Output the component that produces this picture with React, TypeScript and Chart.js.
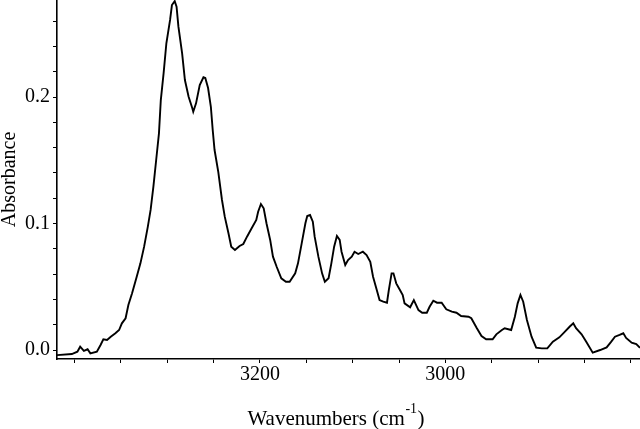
import React, { useEffect, useRef } from "react";
import { Chart, registerables } from "chart.js";

Chart.register(...registerables);

// Wavenumbers (cm-1) (decreasing left to right)
const wavenumbers = [
  3419, 3403, 3397, 3394, 3390, 3386, 3383, 3376, 3372, 3369, 3365, 3361, 3356, 3352, 3349, 3345,
  3342, 3338, 3333, 3329, 3325, 3321, 3318, 3315, 3312, 3309, 3307, 3304, 3301, 3297, 3295, 3292,
  3290, 3288, 3284, 3281, 3277, 3273, 3272, 3269, 3265, 3261, 3259, 3256, 3253, 3251, 3249, 3245,
  3241, 3238, 3234, 3231, 3227, 3222, 3218, 3214, 3209, 3204, 3202, 3199, 3196, 3193, 3189, 3186,
  3182, 3177, 3172, 3168, 3162, 3159, 3155, 3151, 3149, 3146, 3143, 3141, 3137, 3133, 3130, 3126,
  3123, 3120, 3117, 3114, 3112, 3108, 3105, 3101, 3098, 3094, 3089, 3085, 3081, 3078, 3074, 3071,
  3067, 3063, 3061, 3058, 3056, 3053, 3049, 3046, 3044, 3038, 3034, 3029, 3025, 3020, 3017, 3013,
  3009, 3004, 2999, 2993, 2988, 2983, 2975, 2972, 2966, 2961, 2956, 2949, 2945, 2939, 2936, 2929,
  2925, 2922, 2919, 2916, 2912, 2907, 2902, 2896, 2890, 2884, 2877, 2871, 2866, 2862, 2859, 2853,
  2848, 2841, 2833, 2826, 2821, 2817, 2812, 2808, 2805, 2799, 2794, 2790,
];

// Absorbance values at each wavenumber
const absorbance = [
  -0.004, -0.0032, -0.0013, 0.0026, -0.0006, 0.0006, -0.0026, -0.0013, 0.004, 0.0085, 0.0079, 0.0105, 0.0132, 0.0158, 0.0211, 0.0251,
  0.0356, 0.0448, 0.0579, 0.0685, 0.0817, 0.0975, 0.1107, 0.1291, 0.1502, 0.1713, 0.1976, 0.2187, 0.2425, 0.2609, 0.2727, 0.2758,
  0.2714, 0.2556, 0.2345, 0.2134, 0.2002, 0.1911, 0.1884, 0.195, 0.2095, 0.2156, 0.215, 0.2071, 0.1923, 0.1739, 0.1581, 0.1409,
  0.1186, 0.1054, 0.0923, 0.0817, 0.0791, 0.0822, 0.0838, 0.0896, 0.0962, 0.1028, 0.1093, 0.1154, 0.112, 0.1002, 0.087, 0.0738,
  0.0658, 0.0567, 0.054, 0.054, 0.0606, 0.0685, 0.0843, 0.1002, 0.1059, 0.1067, 0.1014, 0.0896, 0.0738, 0.0606, 0.054, 0.0567,
  0.0685, 0.0817, 0.0901, 0.087, 0.0777, 0.0672, 0.0711, 0.0738, 0.0777, 0.0759, 0.0777, 0.0751, 0.0698, 0.0579, 0.0474, 0.0395,
  0.0382, 0.0374, 0.0474, 0.0606, 0.0606, 0.0527, 0.0474, 0.0435, 0.0369, 0.0338, 0.0395, 0.0316, 0.0295, 0.0295, 0.0342, 0.039,
  0.0374, 0.0374, 0.0322, 0.0303, 0.0295, 0.0269, 0.0263, 0.0251, 0.0172, 0.0111, 0.0085, 0.0085, 0.0124, 0.0158, 0.0172, 0.0158,
  0.0263, 0.0369, 0.0435, 0.0382, 0.0237, 0.0105, 0.0018, 0.0013, 0.0013, 0.0066, 0.01, 0.0145, 0.0184, 0.0211, 0.0172, 0.0124,
  0.0066, -0.0021, 0.0, 0.0021, 0.0066, 0.0105, 0.0119, 0.0132, 0.0096, 0.0058, 0.0047, 0.0018,
];

// Axis tick labels that are shown
const xTickLabels = [3200, 3000];
const yTickLabels = [0.0, 0.1, 0.2];

const X_MIN = 2790;
const X_MAX = 3419;
const Y_MIN = -0.0071;
const Y_MAX = 0.2767;

const FONT = "'Liberation Serif', 'Times New Roman', serif";

const xTitlePlugin = {
  id: "xTitleSup",
  afterDraw(chart: any) {
    const { ctx, chartArea } = chart;
    ctx.save();
    ctx.fillStyle = "#000";
    ctx.textAlign = "left";
    ctx.textBaseline = "alphabetic";
    const main = `21px ${FONT}`;
    const sup = `14px ${FONT}`;
    const a = "Wavenumbers (cm";
    const b = "-1";
    const c = ")";
    ctx.font = main;
    const wa = ctx.measureText(a).width;
    const wc = ctx.measureText(c).width;
    ctx.font = sup;
    const wb = ctx.measureText(b).width;
    const cx = (chartArea.left + chartArea.right) / 2 - 13;
    const y = chartArea.bottom + 66;
    let x = cx - (wa + wb + wc) / 2;
    ctx.font = main;
    ctx.fillText(a, x, y);
    x += wa;
    ctx.font = sup;
    ctx.fillText(b, x + 0.5, y - 12);
    x += wb + 1;
    ctx.font = main;
    ctx.fillText(c, x, y);
    ctx.restore();
  },
};

export default function App() {
  const canvasRef = useRef<HTMLCanvasElement | null>(null);

  useEffect(() => {
    document.body.style.margin = "0";
    const canvas = canvasRef.current;
    if (!canvas) return;
    const points = wavenumbers.map((w, i) => ({ x: w, y: absorbance[i] }));
    const chart = new Chart(canvas, {
      type: "line",
      data: {
        datasets: [
          {
            data: points,
            borderColor: "#000",
            borderWidth: 1.9,
            pointRadius: 0,
            tension: 0,
            fill: false,
          },
        ],
      },
      options: {
        animation: false,
        responsive: true,
        maintainAspectRatio: false,
        layout: { padding: 0 },
        plugins: {
          legend: { display: false },
          tooltip: { enabled: false },
          title: { display: false },
        },
        scales: {
          x: {
            type: "linear",
            reverse: true,
            min: X_MIN,
            max: X_MAX,
            border: { display: true, color: "#000", width: 1.6 },
            grid: {
              drawOnChartArea: false,
              drawTicks: true,
              tickLength: 4,
              tickColor: "#000",
              lineWidth: 1,
            },
            ticks: {
              stepSize: 50,
              includeBounds: false,
              autoSkip: false,
              maxRotation: 0,
              padding: 0,
              color: "#000",
              font: { family: FONT, size: 20 },
              callback: (v: any) => (xTickLabels.includes(Number(v)) ? String(v) : ""),
            },
            afterFit: (scale: any) => {
              scale.height = 70;
              scale.paddingLeft = 0;
              scale.paddingRight = 0;
            },
          },
          y: {
            type: "linear",
            min: Y_MIN,
            max: Y_MAX,
            border: { display: true, color: "#000", width: 1.6 },
            grid: {
              drawOnChartArea: false,
              drawTicks: true,
              tickLength: 4,
              tickColor: "#000",
              lineWidth: 1,
            },
            ticks: {
              stepSize: 0.02,
              includeBounds: false,
              autoSkip: false,
              padding: 3,
              color: "#000",
              font: { family: FONT, size: 20 },
              callback: (v: any) => {
                const n = Number(v);
                const hit = yTickLabels.find((t) => Math.abs(t - n) < 1e-6);
                return hit !== undefined ? hit.toFixed(1) : "";
              },
            },
            title: {
              display: true,
              text: "Absorbance",
              color: "#000",
              font: { family: FONT, size: 20, lineHeight: 1 },
              padding: 0,
            },
            afterFit: (scale: any) => {
              scale.width = 57;
              scale.paddingTop = 0;
              scale.paddingBottom = 0;
            },
          },
        },
      },
      plugins: [xTitlePlugin],
    });
    return () => chart.destroy();
  }, []);

  return (
    <div style={{ position: "fixed", left: 0, top: 0, width: 640, height: 429 }}>
      <canvas ref={canvasRef} />
    </div>
  );
}
